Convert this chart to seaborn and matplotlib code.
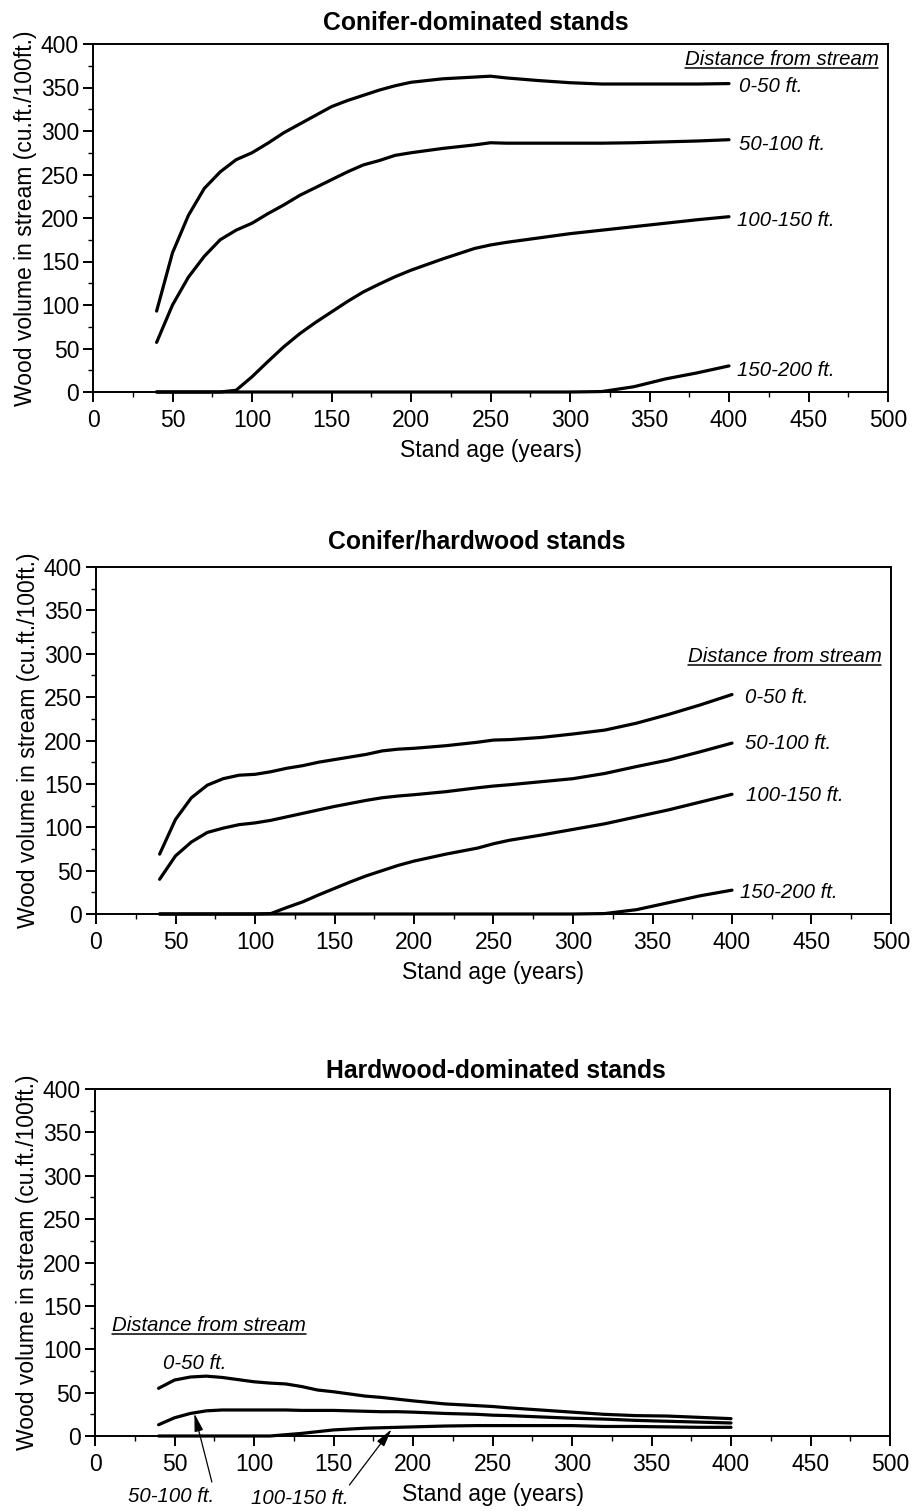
import matplotlib
matplotlib.use("Agg")
import matplotlib.pyplot as plt
from matplotlib.lines import Line2D
from matplotlib.ticker import MultipleLocator
import seaborn as sns
import pandas as pd

# Stand ages (years) at which wood volume was tabulated
ages = [40, 50, 60, 70, 80, 90, 100, 110, 120, 130, 140, 150, 160, 170, 180,
        190, 200, 220, 240, 250, 260, 280, 300, 320, 340, 360, 380, 400]

distances = ["0-50 ft.", "50-100 ft.", "100-150 ft.", "150-200 ft."]

# Conifer-dominated stands (cu.ft./100ft.)
conifer_0_50 = [93, 160, 203, 234, 253, 267, 275, 286, 298, 308, 318, 328, 335, 341, 347,
                352, 356, 360, 362, 363, 361, 358, 355.5, 354, 354, 354, 354, 354.5]
conifer_50_100 = [57, 100, 132, 156, 175, 186, 194, 205, 215, 226, 235, 244, 253, 261, 266,
                  272, 275, 280, 284, 286.5, 286, 286, 286, 286, 286.5, 287.5, 288.5, 290]
conifer_100_150 = [0, 0, 0, 0, 0, 2, 17.5, 35, 52, 67, 80, 92, 104, 115, 124,
                   132.5, 140, 153, 165, 169, 172, 177, 182, 186, 190, 194, 198, 201.5]
conifer_150_200 = [0, 0, 0, 0, 0, 0, 0, 0, 0, 0, 0, 0, 0, 0, 0,
                   0, 0, 0, 0, 0, 0, 0, 0, 0.5, 6, 15, 22, 30]

# Conifer/hardwood stands
mixed_0_50 = [69, 109, 134, 148.5, 156, 160, 161, 164, 168, 171, 175, 178, 181, 184, 188,
              190, 191, 194, 198, 200.5, 201, 203.5, 207.5, 212, 220, 230, 241, 253]
mixed_50_100 = [40, 67, 83, 94, 99, 103, 105, 108, 112, 116, 120, 124, 127.5, 131, 134,
                136, 137.5, 141, 145.5, 147.5, 149, 152.5, 156, 162, 170, 177.5, 187, 197]
mixed_100_150 = [0, 0, 0, 0, 0, 0, 0, 0.5, 7.5, 14, 22, 29.5, 37, 44, 50,
                 56, 61, 69, 76, 81, 85, 91, 97.5, 104, 112, 120, 129, 138]
mixed_150_200 = [0, 0, 0, 0, 0, 0, 0, 0, 0, 0, 0, 0, 0, 0, 0,
                 0, 0, 0, 0, 0, 0, 0, 0, 0.5, 5, 13, 21, 27.5]

# Hardwood-dominated stands
hard_0_50 = [55, 64.5, 68, 69, 67.5, 65, 62.5, 61, 60, 57, 53, 51, 48.5, 46, 44.5,
             42.5, 40.5, 37, 35, 34, 32.5, 30, 27.5, 25, 23.5, 23, 21.5, 20]
hard_50_100 = [13, 21, 26, 29, 30, 30, 30, 30, 30, 29.5, 29.5, 29.5, 29, 28.5, 28,
               28, 27.5, 26, 25, 24, 23.5, 22, 20.5, 19.5, 18, 17, 16, 15]
hard_100_150 = [0, 0, 0, 0, 0, 0, 0, 0, 1.5, 3, 5, 7, 8, 9, 9.5,
                10, 10.5, 11.5, 12, 12, 12, 12, 12, 11, 11, 10.5, 10, 10]

panel_titles = ["Conifer-dominated stands", "Conifer/hardwood stands",
                "Hardwood-dominated stands"]
panel_series = [
    [conifer_0_50, conifer_50_100, conifer_100_150, conifer_150_200],
    [mixed_0_50, mixed_50_100, mixed_100_150, mixed_150_200],
    [hard_0_50, hard_50_100, hard_100_150],
]

sns.set_theme(style="ticks")
plt.rcParams["font.family"] = ["Liberation Sans", "DejaVu Sans"]
plt.rcParams.update({
    "axes.linewidth": 1.4,
    "xtick.major.width": 1.4, "ytick.major.width": 1.4,
    "xtick.minor.width": 1.0, "ytick.minor.width": 1.0,
    "xtick.major.size": 7, "ytick.major.size": 7,
    "xtick.minor.size": 3.5, "ytick.minor.size": 3.5,
    "axes.edgecolor": "black", "xtick.color": "black", "ytick.color": "black",
    "text.color": "black", "axes.labelcolor": "black",
    "xtick.labelcolor": "black", "ytick.labelcolor": "black",
})

W, H = 914, 1511
fig = plt.figure(figsize=(W / 100, H / 100), dpi=100)
fig.patch.set_facecolor("white")

# axes boxes in pixels: left, top, right, bottom
boxes = [(93, 44, 888, 392), (96, 567, 891, 914), (95, 1089, 890, 1436)]
title_x = [0.482, 0.479, 0.504]
title_pad = [10, 13, 8]

axes = []
for (l, t, r, b), title, series, tx, tp in zip(boxes, panel_titles, panel_series,
                                               title_x, title_pad):
    ax = fig.add_axes([l / W, 1 - b / H, (r - l) / W, (b - t) / H])
    frames = []
    for name, vals in zip(distances, series):
        frames.append(pd.DataFrame({"age": ages, "volume": vals, "distance": name}))
    df = pd.concat(frames, ignore_index=True)
    sns.lineplot(data=df, x="age", y="volume", hue="distance",
                 palette=["black"] * len(series), linewidth=2.3, legend=False,
                 ax=ax, clip_on=False)
    ax.set_xlim(0, 500)
    ax.set_ylim(0, 400)
    ax.xaxis.set_major_locator(MultipleLocator(50))
    ax.xaxis.set_minor_locator(MultipleLocator(25))
    ax.yaxis.set_major_locator(MultipleLocator(50))
    ax.yaxis.set_minor_locator(MultipleLocator(25))
    ax.tick_params(axis="both", which="both", direction="out", labelsize=16.5,
                   top=False, right=False)
    ax.tick_params(axis="x", which="major", pad=5)
    ax.tick_params(axis="y", which="major", pad=3)
    for s in ax.spines.values():
        s.set_visible(True)
        s.set_linewidth(1.4)
        s.set_color("black")
    ax.set_xlabel("Stand age (years)", fontsize=16.5, labelpad=5)
    ax.set_ylabel("Wood volume in stream (cu.ft./100ft.)", fontsize=16.5, labelpad=3)
    ax.set_title(title, fontsize=17.8, fontweight="bold", pad=tp, x=tx)
    axes.append(ax)

label_kw = dict(fontsize=14.7, style="italic", va="center", ha="left")
header_kw = dict(fontsize=14.7, style="italic", va="center")

# Panel 1 annotations
ax1 = axes[0]
h1 = ax1.text(494, 382, "Distance from stream", ha="right", **header_kw)
ax1.text(406, 351, distances[0], **label_kw)
ax1.text(406, 284, distances[1], **label_kw)
ax1.text(405, 197, distances[2], **label_kw)
ax1.text(405, 25, distances[3], **label_kw)

# Panel 2 annotations
ax2 = axes[1]
h2 = ax2.text(494, 297, "Distance from stream", ha="right", **header_kw)
ax2.text(408, 250, distances[0], **label_kw)
ax2.text(408, 196, distances[1], **label_kw)
ax2.text(409, 137, distances[2], **label_kw)
ax2.text(405, 25, distances[3], **label_kw)

# Panel 3 annotations
ax3 = axes[2]
h3 = ax3.text(11, 127, "Distance from stream", ha="left", **header_kw)
ax3.text(43, 84, distances[0], **label_kw)
ax3.text(48, -70, distances[1], fontsize=14.7, style="italic", ha="center",
         va="center", clip_on=False)
ax3.text(129, -72.5, distances[2], fontsize=14.7, style="italic", ha="center",
         va="center", clip_on=False)
arrow_kw = dict(arrowstyle="-|>,head_length=0.9,head_width=0.22", lw=0.9,
                color="black", shrinkA=0, shrinkB=0)
ax3.annotate("", xy=(62.5, 26), xytext=(73.5, -53), arrowprops=arrow_kw,
             annotation_clip=False)
ax3.annotate("", xy=(186.5, 7.7), xytext=(160, -56.5), arrowprops=arrow_kw,
             annotation_clip=False)

# underline the "Distance from stream" headers
fig.canvas.draw()
renderer = fig.canvas.get_renderer()
for h in (h1, h2, h3):
    bb = h.get_window_extent(renderer=renderer)
    y = bb.y0 + 1
    fig.add_artist(Line2D([bb.x0 / W, bb.x1 / W], [y / H, y / H],
                          transform=fig.transFigure, color="black", lw=1.1))

fig.savefig("out.png", dpi=100, facecolor="white")
